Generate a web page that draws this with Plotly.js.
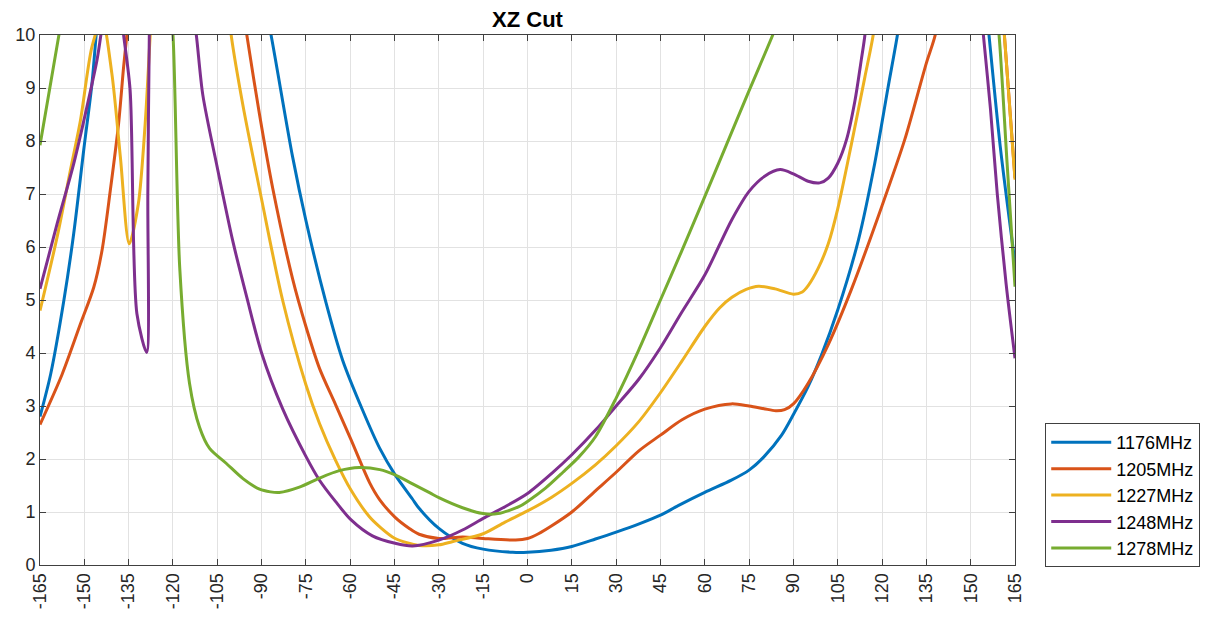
<!DOCTYPE html>
<html>
<head>
<meta charset="utf-8">
<script src="https://cdn.plot.ly/plotly-3.0.1.min.js"></script>
<style>
html,body{margin:0;padding:0;background:#fff;}
#chart{width:1212px;height:617px;}
</style>
</head>
<body>
<div id="chart"></div>
<script>
// Series names
const seriesNames = ['1176MHz', '1205MHz', '1227MHz', '1248MHz', '1278MHz'];
const seriesColors = ['#0072BD', '#D95319', '#EDB120', '#7E2F8E', '#77AC30'];

// X tick labels (angle, degrees)
const xTicks = [-165,-150,-135,-120,-105,-90,-75,-60,-45,-30,-15,0,15,30,45,60,75,90,105,120,135,150,165];
const yTicks = [0,1,2,3,4,5,6,7,8,9,10];

// 1176MHz
const angle1176 = [-165,-161.4,-156.9,-153.6,-150.2,-147.4,-146,-144,-116,-89,-86.8,-79.5,-75,-68.2,-62.6,-55.8,-50,-44.8,-39,-36.7,-30,-22,-15,-5,0,8,15,23,30,38,45,51,60,69,75,80,86,90,95,99.5,105,112,117.5,122,125.2,127,140,155,156.2,160,165];
const value1176 = [2.8,3.6,5.0,6.25,7.83,9.09,10,11.3,20,10.6,10,7.7,6.5,4.95,3.87,2.92,2.2,1.7,1.25,1.07,0.69,0.41,0.3,0.24,0.24,0.28,0.35,0.49,0.62,0.78,0.94,1.12,1.37,1.6,1.79,2.04,2.45,2.84,3.37,3.96,4.81,6.13,7.57,9.0,10,10.7,20,10.7,10,7.9,5.7];

// 1205MHz
const angle1205 = [-165,-157.5,-151.3,-146.8,-144,-141.2,-138.4,-136.7,-135.6,-134.5,-115,-96,-95,-90.7,-86.2,-79.5,-75,-70.4,-65,-59.7,-53.5,-50,-44.8,-40,-36.7,-30,-22,-15,-4,0,3.7,8.2,15,23,30,37.6,45,52.3,60,69,75,80,84,87,90,95,101.8,109.7,120,127.7,135,138,139.5,150,160.5,161.4,165];
const value1205 = [2.65,3.6,4.55,5.24,5.94,7.07,8.33,9.4,10,10.7,20,10.4,10,8.5,7.1,5.4,4.5,3.71,3.03,2.36,1.56,1.23,0.9,0.69,0.58,0.5,0.53,0.5,0.47,0.5,0.59,0.74,1.0,1.4,1.75,2.15,2.45,2.74,2.94,3.04,3.0,2.95,2.91,2.93,3.04,3.43,4.16,5.21,6.78,8.03,9.47,10,10.6,20,10.8,10,7.3];

// 1227MHz
const angle1227 = [-165,-159.2,-154.7,-151.3,-147.4,-144,-140.7,-137.8,-134.8,-131.7,-129.4,-127.7,-126.5,-113,-101.5,-100.3,-96.4,-90,-82.9,-75,-70.4,-65,-59.7,-53.5,-50,-44.8,-36.7,-30,-25.5,-15,-7.6,0,8.2,15,23,30,37.6,45,52.3,60,65,69.2,74,78.2,83.8,90,93,95,98.4,101.8,105,109.7,114.2,117,118,140,160.5,161.4,165];
const value1227 = [4.8,6.19,7.45,8.39,9.78,10.3,9.28,7.7,6.06,6.82,8.33,10,11.2,20,10.6,10,8.7,6.9,5.0,3.4,2.67,1.98,1.41,0.91,0.72,0.5,0.37,0.38,0.44,0.59,0.81,1.02,1.28,1.54,1.89,2.25,2.7,3.25,3.85,4.5,4.85,5.05,5.2,5.26,5.21,5.11,5.15,5.27,5.6,6.06,6.72,7.96,9.21,10,10.5,20,10.8,10,7.27];

// 1248MHz
const angle1248 = [-165,-159.2,-153.6,-149.1,-145.7,-144.4,-141,-137.5,-136.7,-134.5,-132.2,-128.9,-128.5,-128,-127.5,-120,-113,-112.1,-109.9,-105,-99.7,-95,-90,-82.9,-75,-70.4,-65,-59.7,-52.5,-44.8,-38.9,-30,-22,-15,-7.6,0,8.2,15,23.1,30,37.6,45,52,60,69.2,75,80.4,85.5,90,95,98.9,101.8,105,108,110.8,113,114.2,115,135,153.5,154.3,156.7,159,162,165];
const value1248 = [5.21,6.44,7.57,8.65,9.53,10,11.5,10.4,10,8.96,4.74,4.01,7,10,11,20,10.3,10,8.87,7.5,6.1,5.05,4.0,2.95,2.05,1.6,1.2,0.85,0.55,0.41,0.36,0.47,0.66,0.88,1.1,1.35,1.73,2.08,2.55,3.0,3.5,4.1,4.75,5.47,6.52,7.05,7.34,7.46,7.38,7.24,7.21,7.3,7.58,8.03,8.75,9.54,10,10.6,20,10.5,10,8.6,7.0,5.3,3.9];

// 1278MHz
const angle1278 = [-165,-158.6,-157,-140,-121,-120,-117.7,-114.4,-111,-107.6,-102,-96.3,-90.7,-87,-84,-77.2,-70.4,-63.7,-57,-50,-44.8,-38.9,-33,-30,-22,-15,-10,-2.9,0,6.1,12,17.4,23,30,37.6,45,52,60,67.5,75,83,85,120,158,159.6,162.3,165];
const value1278 = [7.92,10,10.6,20,10.5,10,5.6,3.43,2.6,2.2,1.92,1.63,1.43,1.38,1.37,1.47,1.64,1.78,1.84,1.8,1.7,1.53,1.36,1.27,1.08,0.97,0.97,1.1,1.2,1.45,1.75,2.04,2.42,3.15,4.05,5.0,5.9,6.95,7.95,8.95,10,10.3,20,10.8,10,7.6,5.25];

const angles = [angle1176, angle1205, angle1227, angle1248, angle1278];
const values = [value1176, value1205, value1227, value1248, value1278];

const traces = seriesNames.map((name, i) => ({
  type: 'scatter',
  mode: 'lines',
  name: name,
  legendgroup: 'g' + i,
  x: angles[i],
  y: values[i],
  line: {color: seriesColors[i], width: 3, shape: 'spline', smoothing: 0.8},
  hoverinfo: 'x+y+name'
}));

const axisCommon = {
  showline: true,
  linecolor: '#404040',
  linewidth: 1,
  mirror: 'ticks',
  ticks: 'inside',
  ticklen: 6,
  tickcolor: '#404040',
  showgrid: true,
  gridcolor: '#e2e2e2',
  gridwidth: 1,
  zeroline: false,
  automargin: false,
  tickfont: {family: 'Liberation Sans, Arial, sans-serif', size: 18, color: '#262626'}
};

const layout = {
  width: 1212,
  height: 617,
  paper_bgcolor: '#ffffff',
  plot_bgcolor: '#ffffff',
  margin: {l: 40, r: 195, t: 35, b: 52},
  title: {
    text: 'XZ Cut',
    font: {family: 'Liberation Sans, Arial, sans-serif', size: 22, color: '#000000', weight: 'bold'},
    x: 0.5, xref: 'paper', xanchor: 'center',
    y: 0.968, yref: 'container', yanchor: 'middle'
  },
  xaxis: Object.assign({}, axisCommon, {
    range: [-165, 165],
    tickmode: 'array',
    tickvals: xTicks,
    ticktext: xTicks.map(String),
    tickangle: -90
  }),
  yaxis: Object.assign({}, axisCommon, {
    range: [0, 10],
    tickmode: 'array',
    tickvals: yTicks,
    ticktext: yTicks.map(String)
  }),
  showlegend: true,
  legend: {
    x: 1.031, xanchor: 'left',
    y: -0.004, yanchor: 'bottom',
    bgcolor: '#ffffff',
    bordercolor: '#404040',
    borderwidth: 1,
    itemwidth: 60,
    tracegroupgap: 0,
    font: {family: 'Liberation Sans, Arial, sans-serif', size: 18, color: '#000000'}
  }
};

Plotly.newPlot('chart', traces, layout, {displayModeBar: false, staticPlot: true});
</script>
</body>
</html>
